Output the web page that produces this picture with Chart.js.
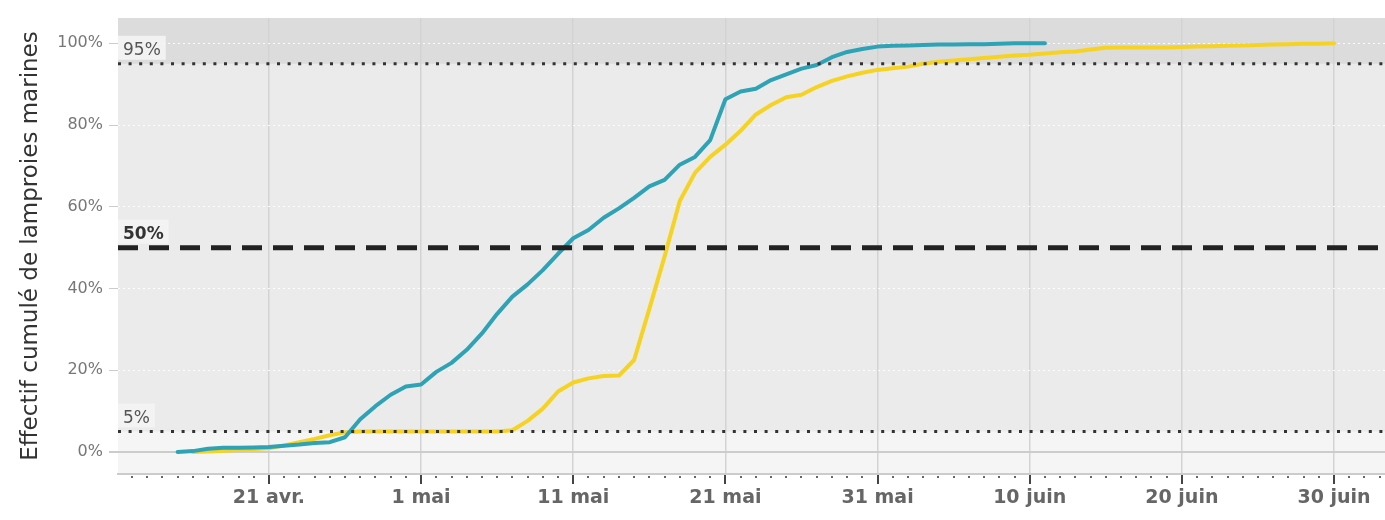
<!DOCTYPE html>
<html>
<head>
<meta charset="utf-8">
<script src="https://cdn.jsdelivr.net/npm/chart.js@4.4.1/dist/chart.umd.min.js"></script>
<style>
  html, body { margin: 0; padding: 0; background: #fff; }
  #wrap { width: 1385px; height: 520px; }
</style>
</head>
<body>
<div id="wrap"><canvas id="lineChart"></canvas></div>
<script>
var monthNames = ['janv.', 'févr.', 'mars', 'avr.', 'mai', 'juin', 'juil.', 'août', 'sept.', 'oct.', 'nov.', 'déc.'];

// one value per day, starting at the given date
var tealStart = '2021-04-15';
var tealValues = [
    0, 0.2, 0.8, 1.0, 1.0, 1.1, 1.2, 1.5, 1.8, 2.2, 2.4, 3.6, 8.0, 11.2, 14.0, 16.0,
    16.5, 19.6, 21.8, 25.0, 29.0, 33.8, 38.0, 41.0, 44.5, 48.5,
    52.3, 54.3, 57.3, 59.6, 62.2, 65.0, 66.6, 70.3, 72.2, 76.3,
    86.3, 88.2, 88.9, 91.0, 92.4, 93.8, 94.7, 96.6, 97.9, 98.6, 99.2,
    99.4, 99.5, 99.6, 99.7, 99.7, 99.8, 99.8, 99.9, 100, 100, 100
];
var yellowStart = '2021-04-16';
var yellowValues = [
    0, 0.1, 0.3, 0.5, 0.7, 0.9, 1.6, 2.4, 3.2, 4.1, 4.8, 5.0, 5.0, 5.0, 5.0,
    5.0, 5.0, 5.0, 5.0, 5.0, 5.0, 5.3, 7.6, 10.6, 14.8,
    17.0, 18.0, 18.6, 18.7, 22.5, 35.0, 47.8, 61.4, 68.3, 72.2,
    75.2, 78.6, 82.6, 84.9, 86.8, 87.4, 89.3, 90.8, 91.9, 92.8, 93.5,
    93.9, 94.3, 95.0, 95.5, 95.8, 96.1, 96.4, 96.7, 97.0, 97.2,
    97.5, 97.8, 98.0, 98.5, 98.9, 99.0, 99.0, 99.0, 99.0, 99.1,
    99.2, 99.3, 99.4, 99.5, 99.6, 99.7, 99.8, 99.9, 99.9, 100
];

var thresholds = [95, 50, 5];
var thresholdLabels = ['95%', '50%', '5%'];
var yTicks = [0, 20, 40, 60, 80, 100];
var xFirstLabel = '2021-04-21';   // labels every 10 days from here
var xWindow = ['2021-04-11', '2021-07-03'];

function toDay(s) {
    var p = s.split('-');
    return Date.UTC(+p[0], p[1] - 1, +p[2]) / 864e5;
}
function series(start, values) {
    var d0 = toDay(start);
    return values.map(function (v, i) {
        return { x: d0 + i, y: v };
    });
}
var labelDay0 = toDay(xFirstLabel);
function isMajor(v) {
    return Number.isInteger(v) && (v - labelDay0) % 10 === 0;
}
var xMin = toDay(xWindow[0]) + 0.08;
var xMax = toDay(xWindow[1]) + 0.35;

function flatLine(v) {
    return [{ x: xMin, y: v }, { x: xMax, y: v }];
}

// shaded bands above 95% and below 5%
var bandsPlugin = {
    id: 'bands',
    beforeDraw: function (chart) {
        var ctx = chart.ctx, a = chart.chartArea, y = chart.scales.y;
        var y95 = y.getPixelForValue(thresholds[0]);
        var y5 = y.getPixelForValue(thresholds[2]);
        ctx.save();
        ctx.fillStyle = '#ebebeb';
        ctx.fillRect(a.left, a.top, a.right - a.left, a.bottom - a.top);
        ctx.fillStyle = '#dcdcdc';
        ctx.fillRect(a.left, a.top, a.right - a.left, y95 - a.top);
        ctx.fillStyle = '#f5f5f5';
        ctx.fillRect(a.left, y5, a.right - a.left, a.bottom - y5);
        ctx.restore();
    }
};

// little boxes with 95% / 50% / 5%
var thresholdLabelPlugin = {
    id: 'thresholdLabels',
    afterDatasetsDraw: function (chart) {
        var ctx = chart.ctx, a = chart.chartArea, y = chart.scales.y;
        ctx.save();
        thresholds.forEach(function (t, i) {
            var py = y.getPixelForValue(t);
            var bold = t === 50;
            ctx.font = (bold ? 'bold 17px' : '17px') + ' "DejaVu Sans"';
            var w = ctx.measureText(thresholdLabels[i]).width;
            ctx.fillStyle = 'rgba(243,243,243,0.92)';
            ctx.fillRect(a.left, py - 28, w + 10, 24);
            ctx.fillStyle = bold ? '#333333' : '#555555';
            ctx.textBaseline = 'alphabetic';
            ctx.fillText(thresholdLabels[i], a.left + 5, py - 9);
        });
        ctx.restore();
    }
};

// x axis tick marks: long ones at the labels, dots for each day
var xTicksPlugin = {
    id: 'xTicks',
    afterDraw: function (chart) {
        var ctx = chart.ctx, x = chart.scales.x, a = chart.chartArea;
        ctx.save();
        x.ticks.forEach(function (t) {
            if (!Number.isInteger(t.value)) return;
            var px = Math.round(x.getPixelForValue(t.value));
            if (isMajor(t.value)) {
                ctx.fillStyle = '#444444';
                ctx.fillRect(px - 1, a.bottom + 1, 2, 9);
            } else {
                ctx.fillStyle = '#666666';
                ctx.fillRect(px - 1, a.bottom + 2, 2, 2);
            }
        });
        ctx.restore();
    }
};

var myLineChart = new Chart('lineChart', {
    type: 'line',
    data: {
        datasets: [
            {
                data: flatLine(thresholds[0]),
                borderColor: '#333333',
                borderWidth: 3,
                borderDash: [3, 7.6],
                pointRadius: 0
            },
            {
                data: flatLine(thresholds[1]),
                borderColor: '#222222',
                borderWidth: 5,
                borderDash: [20, 11],
                pointRadius: 0
            },
            {
                data: flatLine(thresholds[2]),
                borderColor: '#333333',
                borderWidth: 3,
                borderDash: [3, 7.6],
                pointRadius: 0
            },
            {
                label: 'teal',
                data: series(tealStart, tealValues),
                borderColor: '#2ea3b5',
                borderWidth: 4,
                borderJoinStyle: 'round',
                borderCapStyle: 'round',
                pointRadius: 0
            },
            {
                label: 'yellow',
                data: series(yellowStart, yellowValues),
                borderColor: '#f6d322',
                borderWidth: 4,
                borderJoinStyle: 'round',
                borderCapStyle: 'round',
                pointRadius: 0
            }
        ]
    },
    options: {
        responsive: true,
        maintainAspectRatio: false,
        animation: false,
        layout: { padding: { top: 18, right: 0, bottom: 0, left: 0 } },
        plugins: {
            legend: { display: false },
            tooltip: { enabled: false }
        },
        scales: {
            x: {
                type: 'linear',
                min: xMin,
                max: xMax,
                afterFit: function (s) { s.height = 46; },
                ticks: {
                    stepSize: 1,
                    maxTicksLimit: 100,
                    includeBounds: false,
                    autoSkip: false,
                    maxRotation: 0,
                    padding: 4,
                    color: '#666666',
                    font: { family: '"DejaVu Sans"', size: 19, weight: 'bold' },
                    callback: function (v) {
                        if (!isMajor(v)) return '';
                        var d = new Date(v * 864e5);
                        return d.getUTCDate() + ' ' + monthNames[d.getUTCMonth()];
                    }
                },
                grid: {
                    color: function (c) { return c.tick && isMajor(c.tick.value) ? '#d3d3d3' : 'rgba(0,0,0,0)'; },
                    lineWidth: 1.5,
                    tickColor: 'rgba(0,0,0,0)',
                    tickLength: 9
                },
                border: { color: '#cccccc', width: 2 }
            },
            y: {
                min: -5.4,
                max: 106.2,
                afterFit: function (s) { s.width = 118; },
                afterBuildTicks: function (s) {
                    s.ticks = yTicks.map(function (v) { return { value: v }; });
                },
                ticks: {
                    padding: 6,
                    color: '#777777',
                    font: { family: '"DejaVu Sans"', size: 16 },
                    callback: function (v) { return v + '%'; }
                },
                grid: {
                    color: function (c) { return c.tick && c.tick.value === 0 ? '#cccccc' : 'rgba(255,255,255,0.9)'; },
                    lineWidth: function (c) { return c.tick && c.tick.value === 0 ? 2 : 1; },
                    tickColor: '#cccccc',
                    tickLength: 9
                },
                border: {
                    display: false,
                    dash: function (c) { return c.tick && c.tick.value !== 0 ? [2, 3] : []; }
                },
                title: {
                    display: true,
                    text: 'Effectif cumulé de lamproies marines',
                    color: '#333333',
                    font: { family: '"DejaVu Sans"', size: 23 },
                    padding: { top: 17, bottom: 0 }
                }
            }
        }
    },
    plugins: [bandsPlugin, thresholdLabelPlugin, xTicksPlugin]
});
</script>
</body>
</html>
